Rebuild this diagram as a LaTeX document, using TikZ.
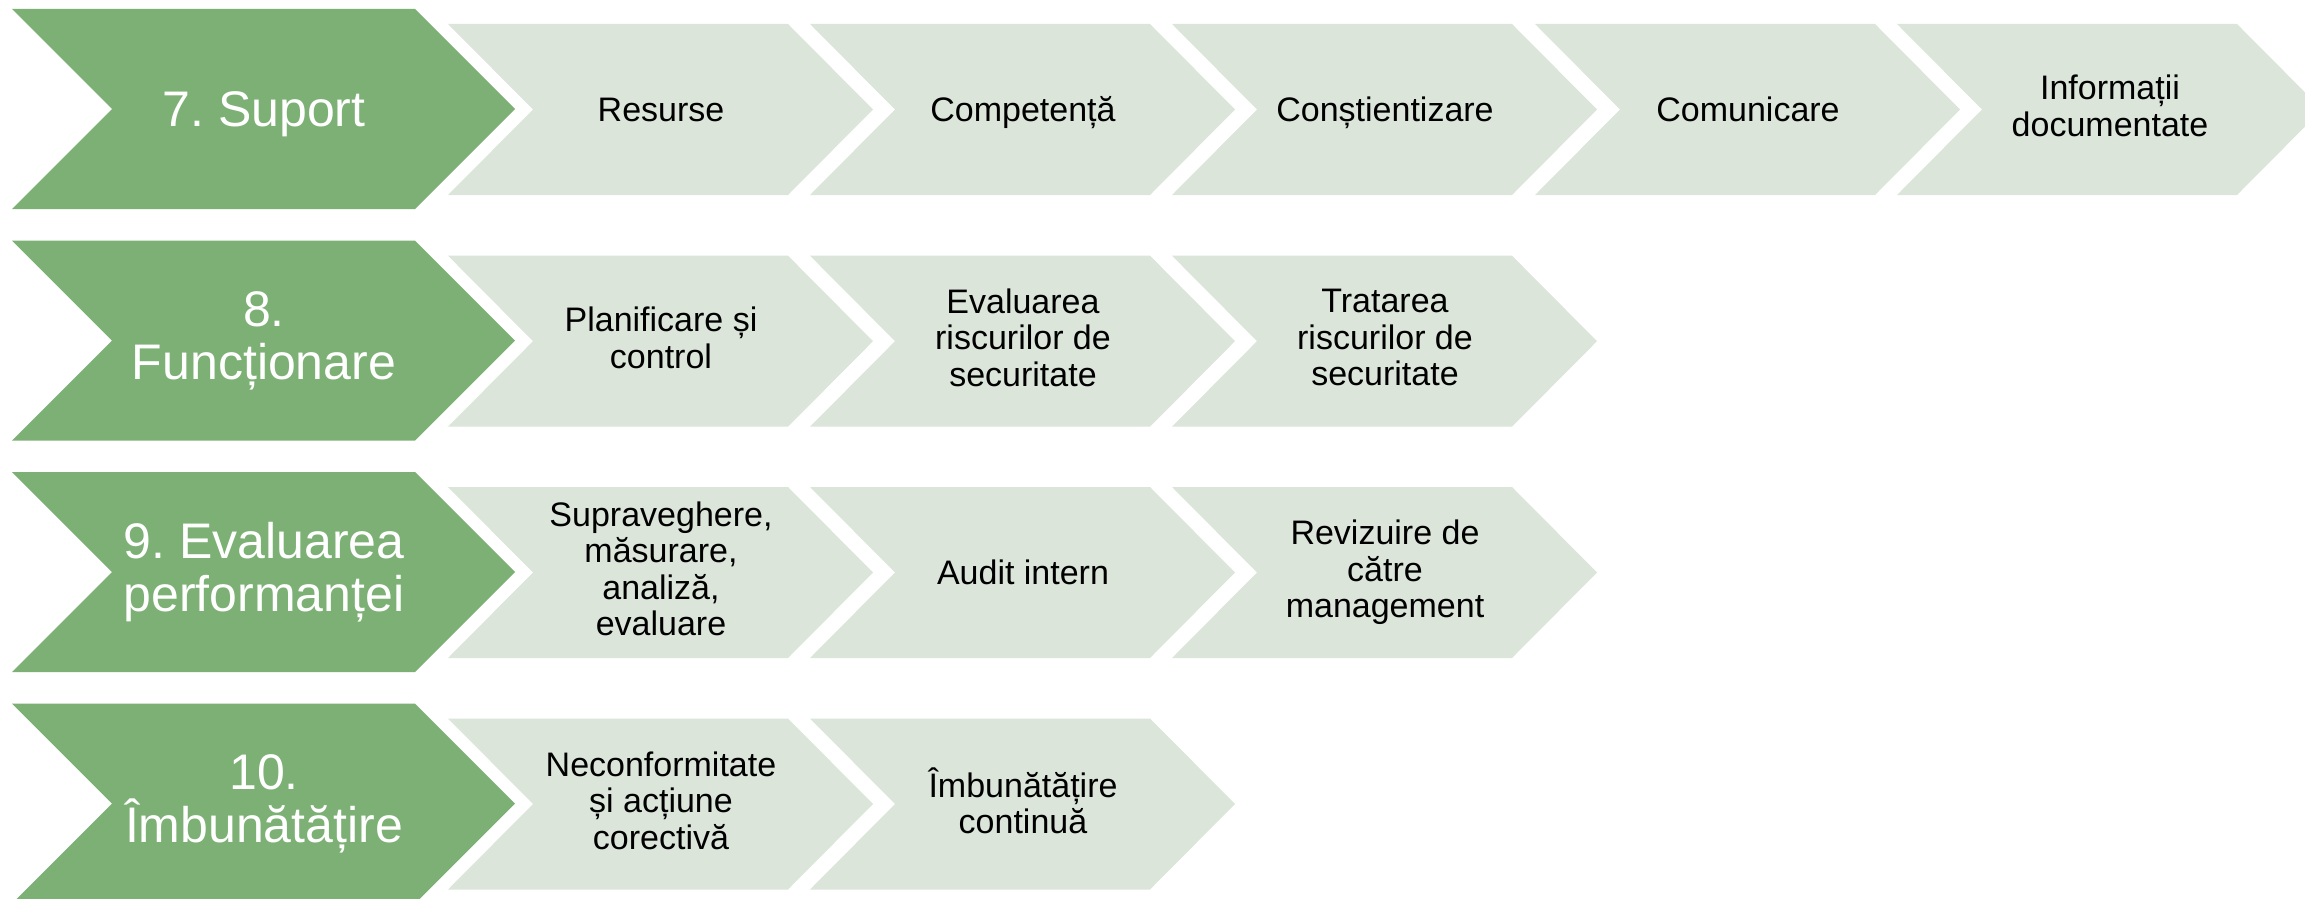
\documentclass[tikz,border=0pt]{standalone}
\usepackage{fontspec}
\setmainfont{Liberation Sans}
\frenchspacing
\definecolor{headgreen}{HTML}{7CB074}
\definecolor{itemgreen}{HTML}{DBE5DA}
\newcommand{\pstrut}{\rule[-0.212em]{0pt}{1.117em}}
% #1 fill style, #2 x left, #3 y top, #4 width, #5 height, #6 point depth
\newcommand{\chevshape}[6]{%
  \fill[#1] (#2,#3) -- ++(#4-#6,0) -- ++(#6,#5/2) -- ++(-#6,#5/2)
     -- ++(-#4+#6,0) -- ++(#6,-#5/2) -- cycle;}
\tikzset{
  headfill/.style={fill=headgreen},
  itemfill/.style={fill=itemgreen},
  headtext/.style={text=white, align=center, inner sep=0pt,
     font=\fontsize{50}{53}\selectfont,
     execute at begin node=\pstrut, execute at end node=\pstrut},
  itemtext/.style={text=black, align=center, inner sep=0pt,
     font=\fontsize{34}{36.5}\selectfont,
     execute at begin node=\pstrut, execute at end node=\pstrut},
}
\newcommand{\headchev}[3]{% name, y top, text
  \chevshape{headfill}{12}{#2}{503}{200}{100}
  \node[headtext] (#1) at (264,#2+100) {#3};}
\newcommand{\itemchev}[4]{% name, x left, y top(head), text
  \chevshape{itemfill}{#2}{#3+15}{425}{171}{85}
  \node[itemtext] (#1) at (#2+213,#3+100.5) {#4};}
\begin{document}
\lineskiplimit=-200pt\relax
\lineskip=0pt\relax
\begin{tikzpicture}[x=1pt,y=-1pt]
\useasboundingbox (0,0) rectangle (2305,899);
\clip (0,0) rectangle (2305,899);
% row 1
\headchev{h7}{9}{7. Suport}
\itemchev{r1a}{448}{9}{Resurse}
\itemchev{r1b}{810}{9}{Competență}
\itemchev{r1c}{1172}{9}{Conștientizare}
\itemchev{r1d}{1535}{9}{Comunicare}
\itemchev{r1e}{1897}{9}{Informații\\documentate}
% row 2
\headchev{h8}{240.7}{8.\\Funcționare}
\itemchev{r2a}{448}{240.7}{Planificare și\\control}
\itemchev{r2b}{810}{240.7}{Evaluarea\\riscurilor de\\securitate}
\itemchev{r2c}{1172}{240.7}{Tratarea\\riscurilor de\\securitate}
% row 3
\headchev{h9}{472}{9. Evaluarea\\performanței}
\itemchev{r3a}{448}{472}{Supraveghere,\\măsurare,\\analiză,\\evaluare}
\itemchev{r3b}{810}{472}{Audit intern}
\itemchev{r3c}{1172}{472}{Revizuire de\\către\\management}
% row 4
\headchev{h10}{703.5}{10.\\Îmbunătățire}
\itemchev{r4a}{448}{703.5}{Neconformitate\\și acțiune\\corectivă}
\itemchev{r4b}{810}{703.5}{Îmbunătățire\\continuă}
\end{tikzpicture}
\end{document}
